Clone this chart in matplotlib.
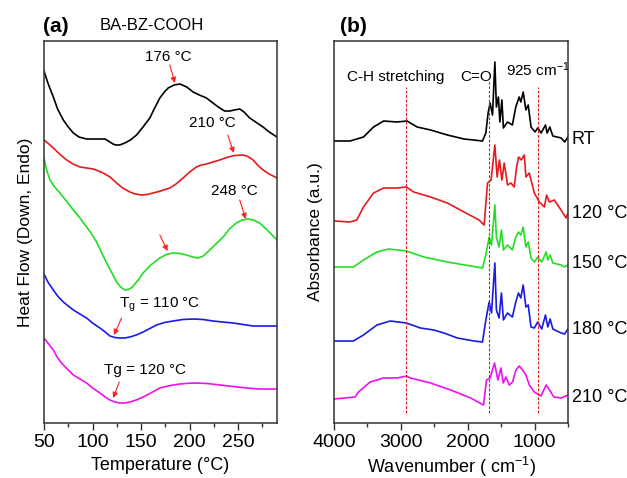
import matplotlib
matplotlib.use("Agg")
import matplotlib.pyplot as plt
from matplotlib.ticker import MultipleLocator

plt.rcParams["font.family"] = ["Liberation Sans", "DejaVu Sans"]
plt.rcParams["mathtext.fontset"] = "custom"
plt.rcParams["mathtext.rm"] = "Liberation Sans"
plt.rcParams["mathtext.it"] = "Liberation Sans:italic"

# (a) DSC curves (arbitrary offset heat-flow units)
t_black = [50, 54, 59.6, 64, 69.9, 75, 80.2, 86, 93.9, 103, 112.8, 117.9, 121, 124, 128, 133.3,
           139, 145.3, 152, 159, 164, 169.3, 174, 177.9, 184, 190, 197, 203.6, 210, 217.4, 224,
           231, 236, 241.4, 246, 251.6, 256, 261.9, 268, 275.6, 282, 290]
hf_black = [352, 340, 326, 314, 303, 296, 290, 286, 284, 284, 284, 281, 279, 278, 278, 280,
            283, 288, 296, 305, 315, 325, 331, 335, 338, 339, 336, 331, 328, 325, 320,
            315, 312, 312, 313, 314, 311, 305, 301, 296, 291, 286]
t_red = [50, 55, 59.6, 66, 73.3, 80, 87, 94, 100.7, 106, 111, 118, 124.8, 131, 138.5, 144,
         150.5, 156, 162.4, 170, 179.6, 186, 193.3, 200, 207, 212, 217.4, 224, 231, 238, 246,
         255, 260, 265.4, 270, 275.6, 282, 290]
hf_red = [283, 279, 275, 269, 263, 259, 256, 255, 254, 252, 250, 246, 240, 235, 231, 229,
          228, 228.5, 230, 232, 235, 239, 245, 251, 256, 258, 259, 261, 263, 265.5, 267.5,
          268, 266.5, 263, 258, 253, 249, 245]
t_green = [50, 53, 56.2, 61, 66.5, 73, 80.2, 87, 93.9, 99, 104.2, 109, 114.5, 120, 124.8, 129,
           133.3, 137, 141, 147, 152, 160, 169.3, 176, 183, 190, 196.8, 203, 208.7, 214, 220.8,
           227, 234.6, 241, 248, 254, 260, 266, 272, 280, 290]
hf_green = [265, 252, 243, 236, 230, 222, 213, 205, 196, 189, 181, 171, 160, 150, 141, 136,
            133, 133.5, 136, 143, 150, 158, 165, 168.5, 170, 169.5, 168, 166, 165, 167, 173,
            179, 186, 194, 200, 203, 204, 203, 200, 193, 183]
t_blue = [50, 54, 59.6, 64, 69.9, 75, 80.2, 87, 93.9, 100, 107.6, 113, 117.9, 123, 128.2, 133,
          138.5, 145, 152.2, 159, 166, 174, 183, 193, 203.6, 214, 224, 234, 244.8, 255, 265.4,
          278, 290]
hf_blue = [149, 141, 133, 127, 121, 117, 113, 109, 105, 100, 95, 91, 87, 85.5, 85, 85,
           86, 88, 91, 94.5, 98, 100.5, 102, 103.5, 104, 103.5, 102, 101, 100, 98.5, 97,
           97, 97]
t_mag = [50, 54, 59.6, 64, 69.9, 75, 80.2, 87, 93.9, 100, 107.6, 113, 117.9, 123, 128.2, 133,
         138.5, 145, 152.2, 160, 169.3, 180, 190, 198, 207, 218, 231, 245, 258.5, 272, 290]
hf_mag = [85, 80, 73, 65, 58, 53, 48, 44, 40, 35, 30, 26, 23, 21, 20, 20,
          21, 23, 26, 30, 35, 37.5, 39, 39.7, 40, 39.5, 38, 36.5, 35, 34, 34]

# (b) FTIR spectra (offset absorbance units)
wn_black = [4000, 3759, 3559, 3409, 3258, 3057, 2907, 2756, 2556, 2305, 2055, 1779, 1729, 1695,
            1665, 1629, 1594, 1571, 1541, 1519, 1489, 1466, 1406, 1332, 1281, 1230, 1206, 1170,
            1130, 1095, 1053, 993, 953, 902, 837, 812, 772, 727, 602, 551, 500]
ab_black = [282, 282, 286, 296, 302, 301, 302, 296, 293, 288, 284, 282, 290, 310,
            320, 308, 361, 316, 326, 301, 323, 295, 301, 298, 316, 326, 321, 331,
            313, 318, 296, 291, 295, 290, 298, 290, 296, 287, 285, 281, 286]
wn_red = [4000, 3759, 3659, 3559, 3409, 3258, 3057, 2917, 2808, 2556, 2305, 2055, 1830, 1754,
          1704, 1650, 1594, 1560, 1525, 1489, 1454, 1404, 1354, 1304, 1269, 1239, 1200, 1154,
          1129, 1079, 1004, 929, 854, 819, 779, 704, 604, 529, 500]
ab_red = [202, 201, 203, 216, 230, 235, 235, 236, 231, 226, 220, 211, 203, 198,
          240, 243, 278, 246, 263, 243, 260, 238, 240, 236, 256, 266, 263, 268,
          246, 250, 230, 221, 216, 228, 221, 223, 213, 205, 210]
wn_green = [4000, 3710, 3559, 3358, 3183, 2917, 2657, 2305, 1955, 1779, 1729, 1679, 1644, 1594,
            1571, 1531, 1496, 1466, 1406, 1332, 1281, 1241, 1206, 1170, 1130, 1095, 1053, 1003,
            953, 893, 827, 802, 767, 727, 602, 551, 500]
ab_green = [156, 156, 163, 171, 174, 172, 166, 161, 157, 155, 168, 186, 178, 218,
            186, 176, 193, 173, 178, 173, 186, 191, 188, 196, 176, 181, 165, 161,
            166, 161, 171, 163, 168, 160, 158, 156, 158]
wn_blue = [4000, 3710, 3559, 3358, 3158, 2917, 2707, 2507, 2356, 2155, 1905, 1779, 1729, 1679,
           1644, 1594, 1571, 1531, 1496, 1466, 1406, 1332, 1281, 1241, 1206, 1170, 1130, 1095,
           1053, 1003, 953, 893, 837, 802, 767, 727, 602, 551, 500]
ab_blue = [82, 82, 88, 98, 102, 100, 95, 93, 90, 85, 82, 81, 103, 121,
           110, 160, 113, 105, 130, 103, 110, 106, 121, 130, 125, 138, 116, 118,
           96, 95, 101, 94, 108, 96, 104, 94, 90, 89, 94]
wn_mag = [4000, 3684, 3634, 3459, 3258, 3057, 2917, 2857, 2556, 2256, 1955, 1764, 1719, 1665,
          1599, 1549, 1504, 1469, 1429, 1379, 1329, 1279, 1229, 1179, 1129, 1079, 1004, 904,
          827, 777, 712, 602, 500]
ab_mag = [24, 26, 31, 41, 45, 45, 47, 45, 40, 33, 25, 18, 43, 45,
          60, 43, 55, 40, 46, 38, 41, 53, 57, 53, 48, 38, 31, 27,
          38, 33, 26, 25, 28]

marker_wn = [2917, 1676, 947]
marker_top = [336, 343, 336]
spectra_labels = ["RT", "120 \u00b0C", "150 \u00b0C", "180 \u00b0C", "210 \u00b0C"]
spectra_label_y = [283, 210, 160, 93, 25]

W, H = 627, 478
fig = plt.figure(figsize=(W / 100, H / 100), dpi=100)
ax1 = fig.add_axes([44 / W, 55 / H, 233 / W, 382 / H])
ax2 = fig.add_axes([334 / W, 55 / H, 234 / W, 382 / H])

lw = 1.2
for t, hf, c in [(t_black, hf_black, "black"), (t_red, hf_red, "#e8191c"),
                 (t_green, hf_green, "#22dd22"), (t_blue, hf_blue, "#1a1ae6"),
                 (t_mag, hf_mag, "#ee10ee")]:
    ax1.plot(t, hf, color=c, lw=lw)

for w, a, c in [(wn_black, ab_black, "black"), (wn_red, ab_red, "#e8191c"),
                (wn_green, ab_green, "#22dd22"), (wn_blue, ab_blue, "#1a1ae6"),
                (wn_mag, ab_mag, "#ee10ee")]:
    ax2.plot(w, a, color=c, lw=lw)

for w, top in zip(marker_wn, marker_top):
    ax2.plot([w, w], [10, top], color="#e8191c", lw=0.8, ls=(0, (2.5, 1.5)))

ax1.set_xlim(50, 290)
ax1.set_ylim(0, 382)
ax2.set_xlim(4000, 500)
ax2.set_ylim(0, 382)

for ax in (ax1, ax2):
    ax.set_yticks([])
    for s in ax.spines.values():
        s.set_color("#333333")
        s.set_linewidth(1.1)
    ax.tick_params(axis="x", which="major", direction="out", length=5, width=1, labelsize=14,
                   colors="#333333", labelcolor="black", pad=3)
    ax.tick_params(axis="x", which="minor", direction="out", length=3, width=1, colors="#333333")

ax1.xaxis.set_major_locator(MultipleLocator(50))
ax1.xaxis.set_minor_locator(MultipleLocator(25))
ax2.xaxis.set_major_locator(MultipleLocator(1000))
ax2.xaxis.set_minor_locator(MultipleLocator(500))

ax1.set_xlabel("Temperature (\u00b0C)", fontsize=13, labelpad=4)
ax1.set_ylabel("Heat Flow (Down, Endo)", fontsize=12.5, labelpad=8)
ax2.set_xlabel("Wavenumber ( cm$^{-1}$)", fontsize=13, labelpad=3)
ax2.set_ylabel("Absorbance (a.u.)", fontsize=12.5, labelpad=8)

fig.text(43 / W, 1 - 27 / H, "(a)", fontsize=15, fontweight="bold", va="center")
fig.text(100 / W, 1 - 25 / H, "BA-BZ-COOH", fontsize=12, va="center")
fig.text(340 / W, 1 - 27 / H, "(b)", fontsize=15, fontweight="bold", va="center")

arrow = dict(arrowstyle="-|>", color="#ff2020", lw=0.8, mutation_scale=8, shrinkA=0, shrinkB=0)
ann = [("176 \u00b0C", (177.6, 366), (179.6, 358), (184.8, 340)),
       ("210 \u00b0C", (223.9, 300), (239.3, 288), (245.5, 270)),
       ("248 \u00b0C", (246.5, 232), (251.6, 223), (257.8, 204)),
       (None, None, (169.3, 188), (177.3, 172)),
       ("T$_\\mathrm{g}$ = 110 \u00b0C", (169.3, 118), (129.9, 105), (122, 88)),
       ("Tg = 120 \u00b0C", (153.9, 53), (127.5, 41), (121.3, 25))]
for txt, tpos, a0, a1 in ann:
    if txt:
        ax1.text(tpos[0], tpos[1], txt, fontsize=11, ha="center", va="center")
    ax1.annotate("", xy=a1, xytext=a0, arrowprops=arrow)

ax2.text(3070, 346, "C-H stretching", fontsize=11, ha="center", va="center")
ax2.text(1870, 346, "C=O", fontsize=11, ha="center", va="center")
ax2.text(950, 353, "925 cm$^{-1}$", fontsize=11, ha="center", va="center")

for lab, y in zip(spectra_labels, spectra_label_y):
    ax2.text(1.015, y, lab, transform=ax2.get_yaxis_transform(), fontsize=13,
             ha="left", va="center")

fig.savefig("out.png", dpi=100)
